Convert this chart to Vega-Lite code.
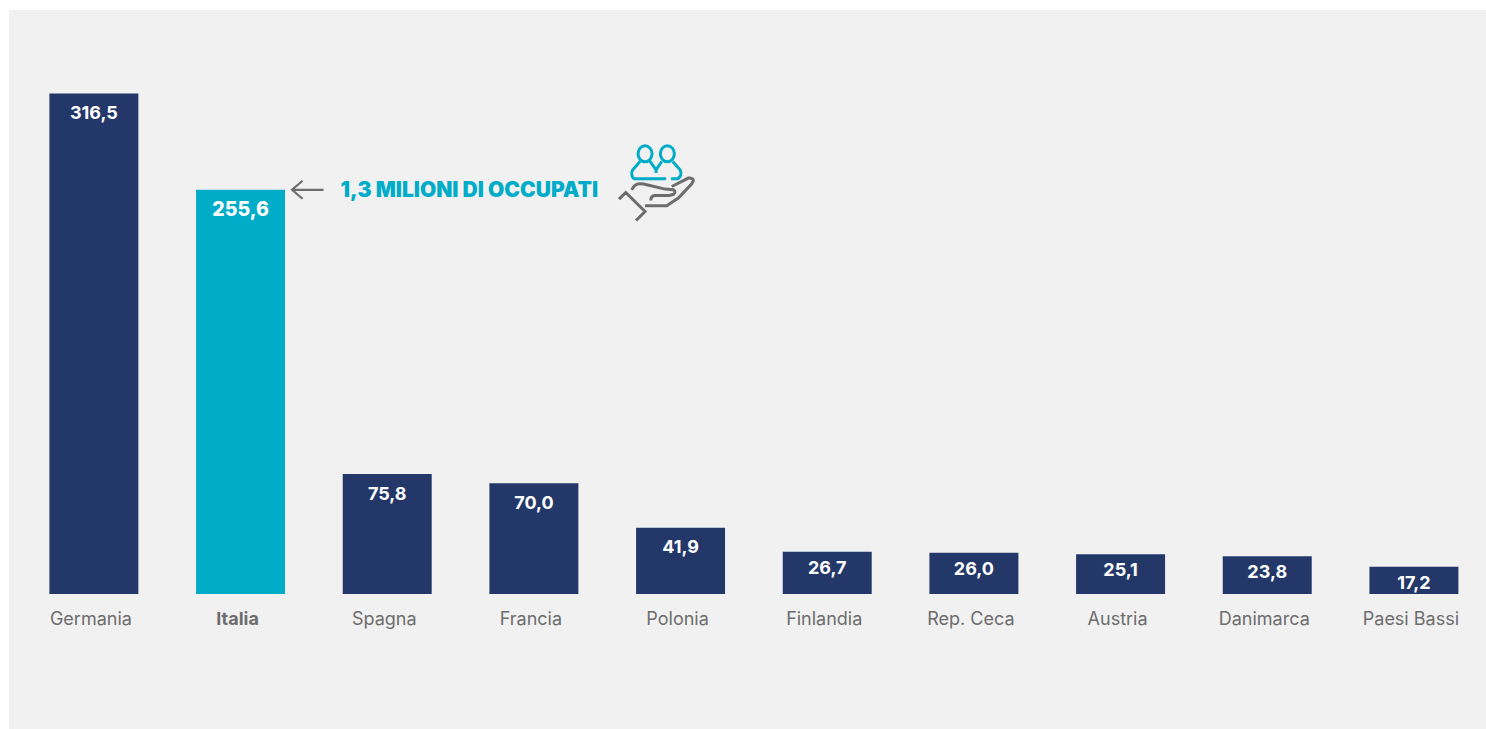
{
"$schema":"https://vega.github.io/schema/vega-lite/v6.json",
"width":1477,"height":719,
"autosize":{"type":"none"},
"padding":{"left":9,"top":10,"right":0,"bottom":0},
"background":"#ffffff",
"view":{"fill":"#f1f1f1","stroke":null},
"data":{"values":[
{"country":"Germania","value":316.5,"label":"316,5"},
{"country":"Italia","value":255.6,"label":"255,6","note":"1,3 MILIONI DI OCCUPATI"},
{"country":"Spagna","value":75.8,"label":"75,8"},
{"country":"Francia","value":70.0,"label":"70,0"},
{"country":"Polonia","value":41.9,"label":"41,9"},
{"country":"Finlandia","value":26.7,"label":"26,7"},
{"country":"Rep. Ceca","value":26.0,"label":"26,0"},
{"country":"Austria","value":25.1,"label":"25,1"},
{"country":"Danimarca","value":23.8,"label":"23,8"},
{"country":"Paesi Bassi","value":17.2,"label":"17,2"}
]},
"encoding":{
"x":{"field":"country","type":"nominal","sort":null,
"scale":{"range":[40.4,1449.4],"paddingInner":0.3934,"paddingOuter":0},
"axis":{"title":null,"domain":false,"ticks":false,"labelAngle":0,"offset":-135,"labelPadding":16,"labelOffset":-3,"labelFont":"Inter","labelFontSize":18,"labelColor":"#6d6d6d","labelBaseline":"top","labelFontWeight":{"condition":{"test":"datum.value==='Italia'","value":"bold"},"value":"normal"}}},
"y":{"field":"value","type":"quantitative","scale":{"domain":[-85.4,369.3],"nice":false,"zero":false},"axis":null}
},
"layer":[
{"mark":{"type":"bar"},"encoding":{"color":{"condition":{"test":"datum.country==='Italia'","value":"#00acc8"},"value":"#233869"}}},
{"transform":[{"filter":"datum.value>=30 && datum.country!=='Italia'"}],"mark":{"type":"text","font":"Inter","fontSize":18,"fontWeight":"bold","fill":"#ffffff","baseline":"middle","align":"center","dy":20.5},"encoding":{"text":{"field":"label"}}},
{"transform":[{"filter":"datum.country==='Italia'"}],"mark":{"type":"text","font":"Inter","fontSize":19.5,"fontWeight":800,"fill":"#ffffff","baseline":"middle","align":"center","dy":20},"encoding":{"text":{"field":"label"}}},
{"transform":[{"filter":"datum.value<30"}],"mark":{"type":"text","font":"Inter","fontSize":18,"fontWeight":"bold","fill":"#ffffff","baseline":"middle","align":"center","dy":17},"encoding":{"text":{"field":"label"}}},
{"transform":[{"filter":"datum.country==='Italia'"}],"mark":{"type":"text","font":"Inter","fontSize":21,"fontWeight":900,"fill":"#00acc8","baseline":"middle","align":"left","dx":100,"dy":1},"encoding":{"text":{"field":"note"}}},
{"transform":[{"filter":"datum.country==='Italia'"}],"mark":{"type":"point","filled":false,"opacity":1,"size":4,"stroke":"#6d6d6d","strokeWidth":2.2,"shape":"M83,0 L51.5,0 M62,-9 L51.5,0 L62,9"}},
{"transform":[{"filter":"datum.country==='Italia'"}],"mark":{"type":"point","filled":false,"opacity":1,"size":4,"stroke":"#00acc8","strokeWidth":3,"shape":"M397.5,-36 a7,8 0 1,1 14,0 a7,8 0 1,1 -14,0 M419.8,-36 a7,8 0 1,1 14,0 a7,8 0 1,1 -14,0 M399.5,-28.3 L392.2,-20 Q390.5,-17 391.2,-15 Q392,-11 394.5,-11 L425.5,-11 M409.5,-28.3 L415.5,-20 L421.2,-28.3 M415.5,-20 L415.5,-16.7 M432.2,-28.3 L439.5,-20 Q441,-17 440.2,-15 Q439,-11 436.2,-11 L430.5,-11"}},
{"transform":[{"filter":"datum.country==='Italia'"}],"mark":{"type":"point","filled":false,"opacity":1,"size":4,"stroke":"#6d6d6d","strokeWidth":3,"shape":"M391.2,0 Q394,-6 399,-6 Q404,-6 406.2,-5 L424.5,-0.7 L432.8,0 Q436,2 433,4.5 L428.8,5.7 L414.5,5.7 Q410.2,6 410.2,10.7 M431.2,-3.3 L447.8,-11.7 Q453,-12 452.8,-9 L451.2,-6 L437.8,8.3 L426.2,16 L404.5,16 M378.5,9.3 L385.2,2.7 L404.5,21.7 L395.5,30.7"}}
]
}
